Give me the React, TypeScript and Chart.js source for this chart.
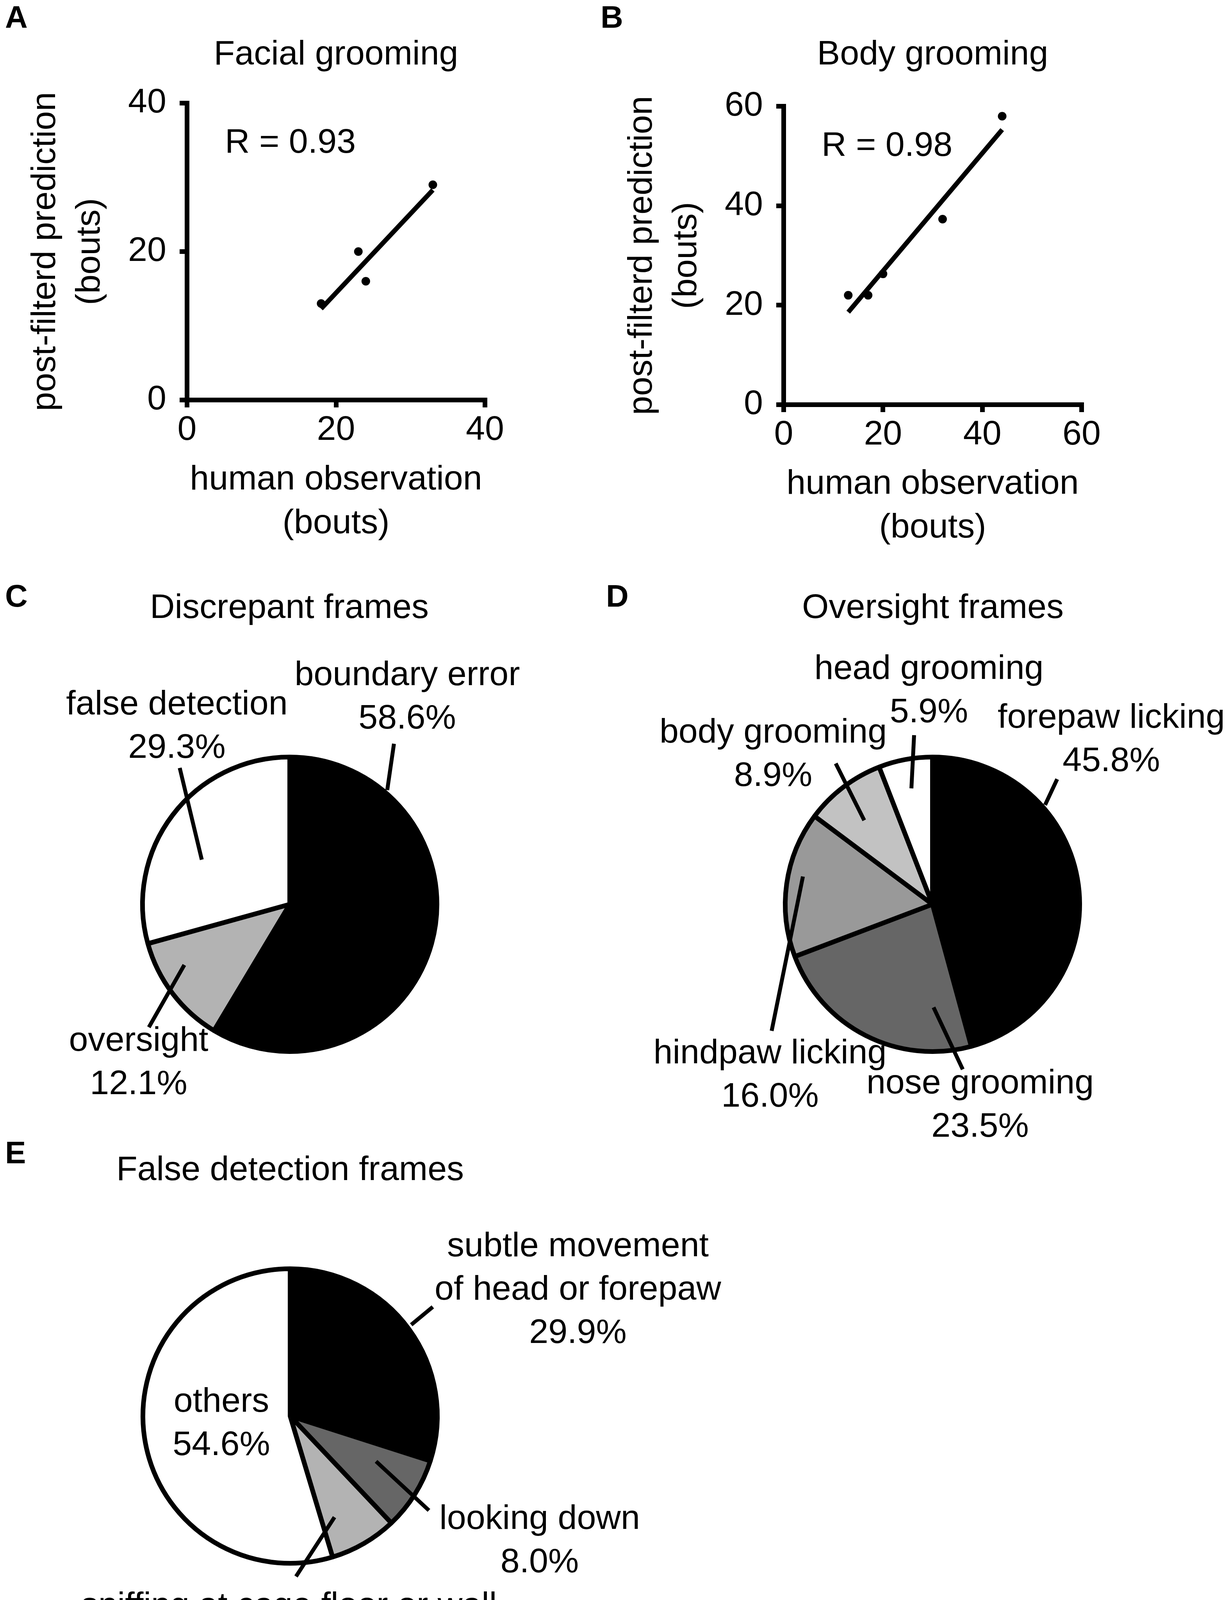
import React, { useEffect, useRef } from "react";
import { Chart, registerables } from "chart.js";

Chart.register(...registerables);

const FONT = '"Liberation Sans", Arial, Helvetica, sans-serif';
const TEXT_SIZE = 88;
const LETTER_SIZE = 80;
const LABEL_LINE = 111;

// ---------- Panel A: Facial grooming ----------
const facialHuman = [18, 23, 24, 33];
const facialPredicted = [13, 20, 16, 29];
const facialFitHuman = [18, 33];
const facialFitPredicted = [12.3, 28.3];
const facialTicks = [0, 20, 40];
const facialR = "R = 0.93";

// ---------- Panel B: Body grooming ----------
const bodyHuman = [13, 17, 20, 32, 44];
const bodyPredicted = [22, 22, 26.3, 37.3, 58];
const bodyFitHuman = [13, 44];
const bodyFitPredicted = [18.6, 55.3];
const bodyTicks = [0, 20, 40, 60];
const bodyR = "R = 0.98";

const xTitleLines = ["human observation", "(bouts)"];
const yTitleLines = ["post-filterd prediction", "(bouts)"];

// ---------- Panel C: Discrepant frames ----------
const discrepantCategories = [["boundary error"], ["oversight"], ["false detection"]];
const discrepantShares = [58.6, 12.1, 29.3];
const discrepantColors = ["#000000", "#b3b3b3", "#ffffff"];

// ---------- Panel D: Oversight frames ----------
const oversightCategories = [
  ["forepaw licking"],
  ["nose grooming"],
  ["hindpaw licking"],
  ["body grooming"],
  ["head grooming"],
];
const oversightShares = [45.8, 23.5, 16.0, 8.9, 5.9];
const oversightColors = ["#000000", "#666666", "#999999", "#c2c2c2", "#ffffff"];

// ---------- Panel E: False detection frames ----------
const falseCategories = [
  ["subtle movement", "of head or forepaw"],
  ["looking down"],
  ["sniffing at cage floor or wall"],
  ["others"],
];
const falseShares = [29.9, 8.0, 7.4, 54.6];
const falseColors = ["#000000", "#666666", "#b3b3b3", "#ffffff"];

// annotation layout (label offsets from pie centre, leader ends as [angle deg, radius fraction])
const discrepantLabelOffsets = [[301, -585], [-387, 351], [-289, -510]];
const discrepantLeaders = [
  [[40.5, 1.02], [33.0, 1.3]],
  [[240.1, 0.826], [228.9, 1.27]],
  [[296.9, 0.67], [321.1, 1.19]],
];
const oversightLabelOffsets = [[458, -476], [122, 460], [-416, 383], [-408, -438], [-9, -601]];
const oversightLeaders = [
  [[48.6, 1.02], [44.9, 1.2]],
  [[179.4, 0.7], [169.6, 1.14]],
  [[282.1, 0.9], [231.8, 1.39]],
  [[320.9, 0.735], [325.5, 1.16]],
  [[349.7, 0.8], [353.8, 1.155]],
];
const falseLabelOffsets = [[737, -433], [639, 265], [-3, 488], [-176, -35]];
const falseLeaders: any[] = [
  [[53.0, 1.03], [52.6, 1.22]],
  [[117.8, 0.66], [124.2, 1.14]],
  [[156.3, 0.75], [177.9, 1.09]],
  null,
];

const pct = (v: number) => `${v.toFixed(1)}%`;

type ScatterProps = {
  letter: string;
  letterPos: [number, number];
  title: string;
  rText: string;
  xs: number[];
  ys: number[];
  fitX: number[];
  fitY: number[];
  ticks: number[];
  box: { left: number; top: number; width: number; height: number };
  area: { left: number; right: number; top: number; bottom: number; axisBottom: number };
};

function ScatterPanel(p: ScatterProps) {
  const ref = useRef<HTMLCanvasElement>(null);
  useEffect(() => {
    const canvas = ref.current as HTMLCanvasElement;
    const maxV = p.ticks[p.ticks.length - 1];
    const titleLH = TEXT_SIZE * 1.2;
    const notes = {
      id: "scatterNotes",
      afterDraw(chart: any) {
        const ctx = chart.ctx;
        const ca = chart.chartArea;
        ctx.save();
        ctx.fillStyle = "#000";
        ctx.font = `${TEXT_SIZE}px ${FONT}`;
        ctx.textAlign = "left";
        ctx.textBaseline = "middle";
        ctx.fillText(p.rText, ca.left + 97, ca.top + 103);
        ctx.font = `bold ${LETTER_SIZE}px ${FONT}`;
        ctx.textBaseline = "alphabetic";
        ctx.fillText(p.letter, p.letterPos[0], p.letterPos[1]);
        ctx.restore();
      },
    };
    const grid = {
      drawOnChartArea: false,
      drawTicks: true,
      tickLength: 19,
      tickWidth: 12,
      tickColor: "#000",
      lineWidth: 12,
      color: "#000",
    };
    const border = { display: true, width: 12, color: "#000" };
    const chart = new Chart(canvas, {
      type: "scatter",
      data: {
        datasets: [
          {
            type: "scatter",
            data: p.xs.map((x, i) => ({ x, y: p.ys[i] })),
            pointRadius: 11,
            pointBackgroundColor: "#000",
            pointBorderWidth: 0,
            order: 1,
          } as any,
          {
            type: "line",
            data: p.fitX.map((x, i) => ({ x, y: p.fitY[i] })),
            borderColor: "#000",
            borderWidth: 12,
            borderCapStyle: "butt",
            pointRadius: 0,
            fill: false,
            order: 2,
          } as any,
        ],
      },
      options: {
        responsive: false,
        animation: false,
        events: [],
        layout: {
          padding: {
            left: 0,
            top: 0,
            right: p.box.width - (p.area.right - p.box.left),
            bottom: p.box.height - (p.area.axisBottom - p.box.top),
          },
        },
        plugins: {
          legend: { display: false },
          tooltip: { enabled: false },
          title: {
            display: true,
            text: p.title,
            color: "#000",
            fullSize: false,
            font: { family: FONT, size: TEXT_SIZE, weight: "normal", lineHeight: 1.2 },
            padding: { top: 88, bottom: p.area.top - p.box.top - 88 - titleLH },
          },
        },
        scales: {
          x: {
            type: "linear",
            position: "bottom",
            min: 0,
            max: maxV,
            afterBuildTicks: (s: any) => {
              s.ticks = p.ticks.map((v) => ({ value: v }));
            },
            afterFit: (s: any) => {
              s.height = p.area.axisBottom - p.area.bottom;
            },
            ticks: {
              color: "#000",
              font: { family: FONT, size: TEXT_SIZE, lineHeight: 1.2 },
              padding: 6,
              maxRotation: 0,
              autoSkip: false,
            },
            grid,
            border,
            title: {
              display: true,
              text: xTitleLines,
              color: "#000",
              font: { family: FONT, size: TEXT_SIZE, lineHeight: 112 / TEXT_SIZE },
              padding: 0,
            },
          },
          y: {
            type: "linear",
            position: "left",
            min: 0,
            max: maxV,
            afterBuildTicks: (s: any) => {
              s.ticks = p.ticks.map((v) => ({ value: v }));
            },
            afterFit: (s: any) => {
              s.width = p.area.left - p.box.left;
            },
            ticks: {
              color: "#000",
              font: { family: FONT, size: TEXT_SIZE, lineHeight: 1.2 },
              padding: 34,
              autoSkip: false,
            },
            grid,
            border,
            title: {
              display: true,
              text: yTitleLines,
              color: "#000",
              font: { family: FONT, size: TEXT_SIZE, lineHeight: 114 / TEXT_SIZE },
              padding: { top: 60, bottom: 0 },
            },
          },
        },
      } as any,
      plugins: [notes],
    });
    return () => chart.destroy();
  }, []);
  return (
    <canvas
      ref={ref}
      width={p.box.width}
      height={p.box.height}
      style={{ position: "absolute", left: p.box.left, top: p.box.top }}
    />
  );
}

type PieProps = {
  letter: string;
  letterPos: [number, number];
  title: string;
  titlePos: [number, number];
  categories: string[][];
  shares: number[];
  colors: string[];
  labelOffsets: number[][];
  leaders: any[];
  box: { left: number; top: number; width: number; height: number };
  center: [number, number];
  radius: number;
};

function PiePanel(p: PieProps) {
  const ref = useRef<HTMLCanvasElement>(null);
  useEffect(() => {
    const canvas = ref.current as HTMLCanvasElement;
    const bw = 12;
    const side = 2 * p.radius + bw;
    const [cx0, cy0] = p.center;
    const notes = {
      id: "pieNotes",
      afterDatasetsDraw(chart: any) {
        const ctx = chart.ctx;
        const arc: any = chart.getDatasetMeta(0).data[0];
        const cx = arc.x;
        const cy = arc.y;
        const R = arc.outerRadius;
        const polar = (a: number, f: number) => {
          const rad = (a * Math.PI) / 180;
          return [cx + f * R * Math.sin(rad), cy - f * R * Math.cos(rad)];
        };
        ctx.save();
        ctx.strokeStyle = "#000";
        ctx.lineWidth = 10;
        ctx.lineCap = "butt";
        p.leaders.forEach((l: any) => {
          if (!l) return;
          const a = polar(l[0][0], l[0][1]);
          const b = polar(l[1][0], l[1][1]);
          ctx.beginPath();
          ctx.moveTo(a[0], a[1]);
          ctx.lineTo(b[0], b[1]);
          ctx.stroke();
        });
        ctx.fillStyle = "#000";
        ctx.font = `${TEXT_SIZE}px ${FONT}`;
        ctx.textAlign = "center";
        ctx.textBaseline = "middle";
        p.categories.forEach((lines, i) => {
          const all = [...lines, pct(p.shares[i])];
          const [dx, dy] = p.labelOffsets[i];
          all.forEach((t, j) => ctx.fillText(t, cx + dx, cy + dy + j * LABEL_LINE));
        });
        ctx.fillText(p.title, p.titlePos[0], p.titlePos[1]);
        ctx.font = `bold ${LETTER_SIZE}px ${FONT}`;
        ctx.textAlign = "left";
        ctx.textBaseline = "alphabetic";
        ctx.fillText(p.letter, p.letterPos[0], p.letterPos[1]);
        ctx.restore();
      },
    };
    const chart = new Chart(canvas, {
      type: "pie",
      data: {
        labels: p.categories.map((l) => l.join(" ")),
        datasets: [
          {
            data: p.shares,
            backgroundColor: p.colors,
            borderColor: "#000",
            borderWidth: bw,
            hoverBorderWidth: bw,
            hoverOffset: 0,
            offset: 0,
          },
        ],
      },
      options: {
        responsive: false,
        animation: false,
        events: [],
        layout: {
          padding: {
            left: cx0 - side / 2,
            top: cy0 - side / 2,
            right: p.box.width - (cx0 + side / 2),
            bottom: p.box.height - (cy0 + side / 2),
          },
        },
        plugins: {
          legend: { display: false },
          tooltip: { enabled: false },
          title: { display: false },
        },
      } as any,
      plugins: [notes],
    });
    return () => chart.destroy();
  }, []);
  return (
    <canvas
      ref={ref}
      width={p.box.width}
      height={p.box.height}
      style={{ position: "absolute", left: p.box.left, top: p.box.top }}
    />
  );
}

export default function App() {
  useEffect(() => {
    document.body.style.margin = "0";
    document.body.style.background = "#fff";
  }, []);
  return (
    <div style={{ position: "relative", width: 3150, height: 4276, background: "#fff", overflow: "hidden" }}>
      <ScatterPanel
        letter="A"
        letterPos={[13, 71]}
        title="Facial grooming"
        rText={facialR}
        xs={facialHuman}
        ys={facialPredicted}
        fitX={facialFitHuman}
        fitY={facialFitPredicted}
        ticks={facialTicks}
        box={{ left: 0, top: 0, width: 1500, height: 1450 }}
        area={{ left: 479, right: 1242, top: 264, bottom: 1024, axisBottom: 1397 }}
      />
      <ScatterPanel
        letter="B"
        letterPos={[10, 71]}
        title="Body grooming"
        rText={bodyR}
        xs={bodyHuman}
        ys={bodyPredicted}
        fitX={bodyFitHuman}
        fitY={bodyFitPredicted}
        ticks={bodyTicks}
        box={{ left: 1528, top: 0, width: 1500, height: 1450 }}
        area={{ left: 2007, right: 2770, top: 272, bottom: 1036, axisBottom: 1408 }}
      />
      <PiePanel
        letter="C"
        letterPos={[13, 103]}
        title="Discrepant frames"
        titlePos={[741, 108]}
        categories={discrepantCategories}
        shares={discrepantShares}
        colors={discrepantColors}
        labelOffsets={discrepantLabelOffsets}
        leaders={discrepantLeaders}
        box={{ left: 0, top: 1450, width: 1500, height: 1450 }}
        center={[742, 865]}
        radius={377}
      />
      <PiePanel
        letter="D"
        letterPos={[52, 103]}
        title="Oversight frames"
        titlePos={[889, 108]}
        categories={oversightCategories}
        shares={oversightShares}
        colors={oversightColors}
        labelOffsets={oversightLabelOffsets}
        leaders={oversightLeaders}
        box={{ left: 1500, top: 1450, width: 1650, height: 1520 }}
        center={[888, 865]}
        radius={377}
      />
      <PiePanel
        letter="E"
        letterPos={[13, 78]}
        title="False detection frames"
        titlePos={[743, 97]}
        categories={falseCategories}
        shares={falseShares}
        colors={falseColors}
        labelOffsets={falseLabelOffsets}
        leaders={falseLeaders}
        box={{ left: 0, top: 2900, width: 3150, height: 1376 }}
        center={[743, 725]}
        radius={377}
      />
    </div>
  );
}
